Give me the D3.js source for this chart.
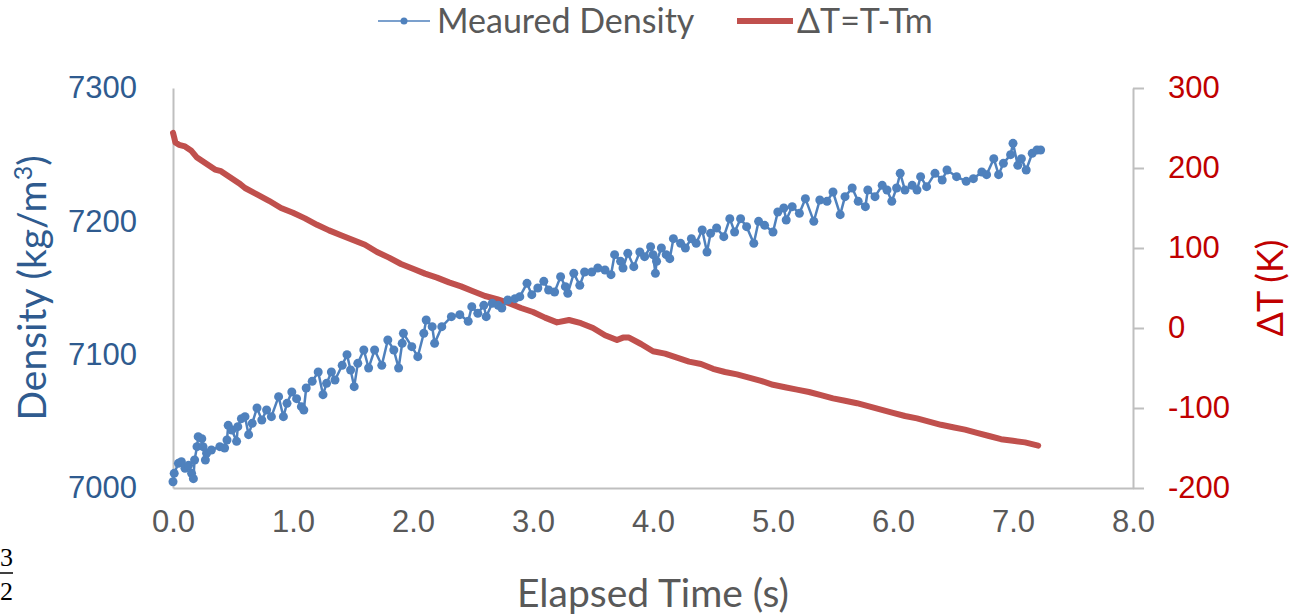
<!DOCTYPE html>
<html lang="en">
<head>
    <meta charset="UTF-8">
    <title>Measured density and ΔT vs elapsed time</title>
    <script src="https://d3js.org/d3.v7.min.js"></script>
    <style>
        body {
            margin: 0;
            background: #fff;
            font-family: Lato, "Open Sans", sans-serif;
        }
        svg { display: block; }
        .tick-x { fill: #595959; font-size: 31px; }
        .tick-l { fill: #2f5b8f; font-size: 31px; }
        .tick-r { fill: #c00000; font-size: 31px; }
        .legend-text { fill: #595959; font-size: 34px; }
    </style>
</head>
<body>
<svg id="chart" width="1295" height="616"></svg>
<script>
// elapsed time (s) and measured density (kg/m3)
const densTime = [0.00,0.01,0.045,0.07,0.10,0.13,0.155,0.17,0.18,0.20,0.21,0.24,0.25,0.27,0.28,0.32,0.39,0.43,0.45,0.46,0.49,0.53,0.54,0.57,0.60,0.63,0.66,0.70,0.74,0.78,0.82,0.88,0.92,0.95,0.99,1.03,1.07,1.09,1.11,1.16,1.21,1.25,1.28,1.32,1.35,1.41,1.45,1.48,1.51,1.54,1.59,1.63,1.68,1.74,1.79,1.84,1.88,1.91,1.92,1.99,2.04,2.09,2.11,2.16,2.18,2.24,2.32,2.39,2.46,2.49,2.54,2.59,2.61,2.66,2.71,2.74,2.79,2.85,2.89,2.95,2.99,3.04,3.09,3.13,3.18,3.23,3.27,3.29,3.34,3.39,3.43,3.49,3.54,3.60,3.65,3.68,3.73,3.75,3.79,3.84,3.89,3.93,3.98,4.00,4.02,4.03,4.07,4.11,4.14,4.17,4.23,4.27,4.32,4.36,4.41,4.45,4.48,4.53,4.59,4.64,4.68,4.73,4.78,4.84,4.88,4.93,5.00,5.04,5.09,5.11,5.16,5.22,5.27,5.34,5.39,5.45,5.50,5.56,5.60,5.66,5.71,5.77,5.79,5.85,5.91,5.95,5.99,6.03,6.06,6.10,6.16,6.20,6.23,6.28,6.35,6.41,6.45,6.53,6.61,6.67,6.74,6.78,6.84,6.88,6.92,6.98,7.00,7.04,7.07,7.11,7.16,7.20,7.23];
const density = [7004.7,7011,7018.5,7019.7,7014.8,7017,7011,7007,7021,7031,7038.5,7037,7031,7021,7026,7028.5,7031,7030,7036,7047,7043.5,7035,7046,7052,7053.5,7040,7048.5,7060,7051,7058.5,7053.5,7068.5,7053.5,7063.5,7072,7067,7061,7058.5,7075,7080,7087,7070,7078.5,7087,7081,7092,7100,7088.5,7076,7093.5,7103.5,7090,7103.5,7092,7111,7103.5,7090,7108.5,7116,7106,7098.5,7116,7126,7121,7108.5,7121,7128.5,7130,7125,7136,7131,7137,7128.5,7138.5,7137,7135,7141,7142,7143.5,7153.5,7145,7150,7155,7148.5,7147,7158.5,7151,7146,7161,7152,7162,7162,7165,7163.5,7160,7175,7170,7165,7176,7166,7177,7173.5,7181,7175,7161,7170,7180,7175,7172,7187,7183.5,7180,7187,7183.5,7193.5,7177,7191,7195,7188.5,7202,7192,7202,7196,7183.5,7200,7197,7192,7207,7210,7201,7211,7206,7217,7200,7216,7215,7222,7205,7218.5,7225,7215,7211,7223.5,7218.5,7227,7223.5,7215,7225,7236,7223.5,7227,7223.5,7233.5,7226,7236,7231,7238.5,7233.5,7230,7232,7237,7235,7247,7235,7243.5,7250,7258.5,7242,7247,7238.5,7251,7253.5,7253.5];

// elapsed time (s) and ΔT = T - Tm (K)
const tempTime = [0.00,0.01,0.02,0.05,0.10,0.15,0.20,0.25,0.30,0.35,0.40,0.45,0.50,0.55,0.60,0.70,0.80,0.90,1.00,1.10,1.20,1.30,1.40,1.50,1.60,1.70,1.80,1.90,2.00,2.10,2.20,2.30,2.40,2.50,2.60,2.70,2.80,2.90,3.00,3.10,3.20,3.30,3.40,3.50,3.60,3.70,3.75,3.80,3.90,4.00,4.10,4.20,4.30,4.40,4.50,4.60,4.70,4.80,4.90,5.00,5.10,5.20,5.30,5.40,5.50,5.60,5.70,5.80,5.90,6.00,6.10,6.20,6.30,6.40,6.50,6.60,6.70,6.80,6.90,7.00,7.10,7.21];
const deltaT = [244,238,232,229,227,222,213,208,203,198,196,191,186,181,175,167,159,150,144,137,129,122,116,110,104,95,88,80,74,68,63,57,52,46,40,36,31,25,20,13,7,10,6,0,-9,-15,-12,-12,-20,-29,-32,-37,-42,-45,-51,-55,-58,-62,-66,-71,-74,-77,-80,-84,-88,-91,-94,-98,-102,-106,-110,-113,-117,-121,-124,-127,-131,-135,-139,-141,-143,-147];

const xTicks = [0, 1, 2, 3, 4, 5, 6, 7, 8];
const leftTicks = [7000, 7100, 7200, 7300];
const rightTicks = [-200, -100, 0, 100, 200, 300];

const blue = "#4f81bd", red = "#c0504d", axisGrey = "#bfbfbf";
const margin = { top: 88, right: 162, bottom: 128, left: 173 };
const width = 1295, height = 616;

const svg = d3.select("#chart");

const x = d3.scaleLinear().domain([0, 8]).range([margin.left, width - margin.right]);
const yL = d3.scaleLinear().domain([7000, 7300]).range([height - margin.bottom, margin.top]);
const yR = d3.scaleLinear().domain([-200, 300]).range([height - margin.bottom, margin.top]);

// axes
const gx = svg.append("g")
    .attr("transform", `translate(0,${yL(7000)})`)
    .call(d3.axisBottom(x).tickValues(xTicks).tickSize(0).tickPadding(22).tickFormat(d3.format(".1f")));
gx.select(".domain").attr("stroke", axisGrey).attr("stroke-width", 2);
gx.selectAll("text").attr("class", "tick-x").attr("font-family", null).attr("font-size", null).attr("fill", null);

const gl = svg.append("g")
    .attr("transform", `translate(${x(0)},0)`)
    .call(d3.axisLeft(yL).tickValues(leftTicks).tickSize(0).tickPadding(36).tickFormat(d => String(d)));
gl.select(".domain").attr("stroke", axisGrey).attr("stroke-width", 2);
gl.selectAll("text").attr("class", "tick-l").attr("font-family", null).attr("font-size", null).attr("fill", null);

const gr = svg.append("g")
    .attr("transform", `translate(${x(8)},0)`)
    .call(d3.axisRight(yR).tickValues(rightTicks).tickSize(11).tickSizeOuter(0).tickPadding(24).tickFormat(d => String(d)));
gr.select(".domain").attr("stroke", axisGrey).attr("stroke-width", 2);
gr.selectAll("line").attr("stroke", axisGrey).attr("stroke-width", 2);
gr.selectAll("text").attr("class", "tick-r").attr("font-family", null).attr("font-size", null).attr("fill", null);

// axis titles
svg.append("text")
    .attr("x", x(4)).attr("y", 607)
    .attr("text-anchor", "middle")
    .attr("fill", "#595959").attr("font-size", 39)
    .text("Elapsed Time (s)");

const lt = svg.append("text")
    .attr("transform", `translate(46,${(yL(7000) + yL(7300)) / 2}) rotate(-90)`)
    .attr("text-anchor", "middle")
    .attr("fill", "#2f5b8f").attr("font-size", 39);
lt.append("tspan").text("Density (kg/m");
lt.append("tspan").attr("font-size", 25).attr("dy", -14).text("3");
lt.append("tspan").attr("dy", 14).text(")");

svg.append("text")
    .attr("transform", `translate(1283,${(yR(-200) + yR(300)) / 2}) rotate(-90)`)
    .attr("text-anchor", "middle")
    .attr("fill", "#c00000").attr("font-size", 36)
    .text("ΔT (K)");

// ΔT series
const tempData = tempTime.map((t, i) => ({ t: t, v: deltaT[i] }));
svg.append("path")
    .datum(tempData)
    .attr("fill", "none")
    .attr("stroke", red)
    .attr("stroke-width", 6)
    .attr("stroke-linejoin", "round")
    .attr("stroke-linecap", "round")
    .attr("d", d3.line().x(d => x(d.t)).y(d => yR(d.v)));

// density series: thin line plus markers
const densData = densTime.map((t, i) => ({ t: t, v: density[i] }));
svg.append("path")
    .datum(densData)
    .attr("fill", "none")
    .attr("stroke", blue)
    .attr("stroke-width", 2.5)
    .attr("d", d3.line().x(d => x(d.t)).y(d => yL(d.v)));

svg.selectAll(".dot")
    .data(densData)
    .enter()
    .append("circle")
    .attr("class", "dot")
    .attr("cx", d => x(d.t))
    .attr("cy", d => yL(d.v))
    .attr("r", 4.5)
    .attr("fill", blue);

// legend
const lg = svg.append("g");
lg.append("line").attr("x1", 378).attr("x2", 430).attr("y1", 21).attr("y2", 21)
    .attr("stroke", blue).attr("stroke-width", 1.5);
lg.append("circle").attr("cx", 404).attr("cy", 21).attr("r", 3.5).attr("fill", blue);
lg.append("text").attr("class", "legend-text").attr("x", 437).attr("y", 33).text("Meaured Density");
lg.append("line").attr("x1", 737).attr("x2", 793).attr("y1", 21).attr("y2", 21)
    .attr("stroke", red).attr("stroke-width", 6);
lg.append("text").attr("class", "legend-text").attr("x", 797).attr("y", 33).text("ΔT=T-Tm");

// fragment at the bottom-left edge
svg.append("text").attr("x", 0).attr("y", 566)
    .attr("font-family", "Liberation Serif").attr("font-size", 26).attr("fill", "#000").text("3");
svg.append("line").attr("x1", 0).attr("x2", 13).attr("y1", 573).attr("y2", 573)
    .attr("stroke", "#000").attr("stroke-width", 1.5);
svg.append("text").attr("x", 0).attr("y", 600)
    .attr("font-family", "Liberation Serif").attr("font-size", 26).attr("fill", "#000").text("2");
</script>
</body>
</html>
